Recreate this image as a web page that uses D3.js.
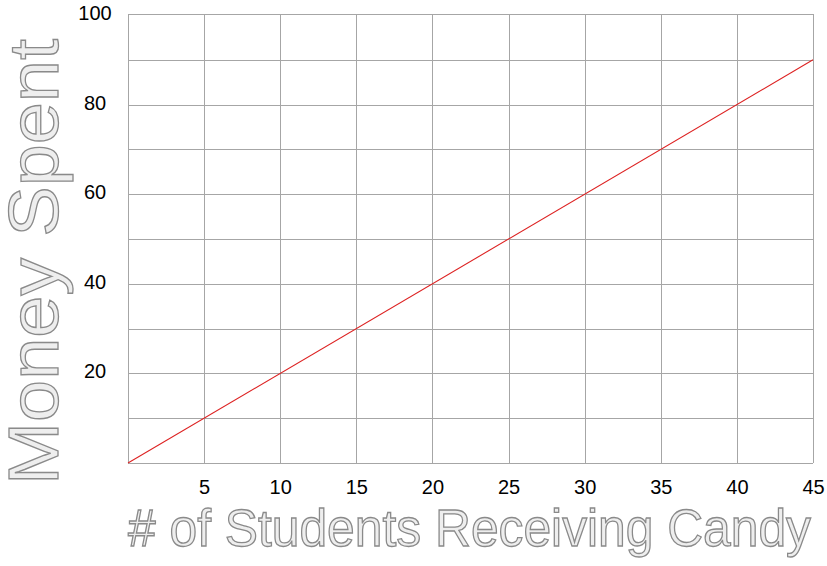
<!DOCTYPE html>
<html>
<head>
<meta charset="utf-8">
<script src="https://cdn.jsdelivr.net/npm/d3@7/dist/d3.min.js"></script>
<style>
  html, body { margin: 0; padding: 0; background: #fff; }
  svg { display: block; }
</style>
</head>
<body>
<svg id="chart" width="827" height="566"></svg>
<script>
// ---- data ----
const xTickValues = [5, 10, 15, 20, 25, 30, 35, 40, 45];
const yTickValues = [20, 40, 60, 80, 100];
const xGridValues = [0, 5, 10, 15, 20, 25, 30, 35, 40, 45];
const yGridValues = [0, 10, 20, 30, 40, 50, 60, 70, 80, 90, 100];
const students = [0, 45];
const money = [0, 90];
const xTitle = "# of Students Receiving Candy";
const yTitle = "Money Spent";

const points = students.map((s, i) => ({ x: s, y: money[i] }));

const svg = d3.select("#chart");
const plotLeft = 128, plotRight = 813, plotTop = 14, plotBottom = 463;

const x = d3.scaleLinear().domain([0, 45]).range([plotLeft, plotRight]);
const y = d3.scaleLinear().domain([0, 100]).range([plotBottom, plotTop + 1]);

const gridColor = "#a6a6a6";

// vertical grid
svg.append("g")
  .selectAll("line")
  .data(xGridValues)
  .join("line")
  .attr("x1", d => Math.round(x(d)) + 0.5)
  .attr("x2", d => Math.round(x(d)) + 0.5)
  .attr("y1", plotTop)
  .attr("y2", plotBottom)
  .attr("stroke", gridColor)
  .attr("stroke-width", 1);

// horizontal grid
svg.append("g")
  .selectAll("line")
  .data(yGridValues)
  .join("line")
  .attr("x1", plotLeft)
  .attr("x2", plotRight)
  .attr("y1", d => (d === 100 ? plotTop : Math.round(y(d))) + 0.5)
  .attr("y2", d => (d === 100 ? plotTop : Math.round(y(d))) + 0.5)
  .attr("stroke", gridColor)
  .attr("stroke-width", 1);

// data line
const line = d3.line().x(d => x(d.x)).y(d => y(d.y));
svg.append("path")
  .datum(points)
  .attr("d", line)
  .attr("fill", "none")
  .attr("stroke", "#dd2222")
  .attr("stroke-width", 1.1);

// x tick labels
const xAxis = d3.axisBottom(x).tickValues(xTickValues).tickSize(0).tickPadding(0);
const gx = svg.append("g").attr("transform", `translate(0, ${plotBottom})`).call(xAxis);
gx.select(".domain").remove();
gx.selectAll("text")
  .attr("y", 25)
  .attr("dy", "0.32em")
  .attr("font-family", "'Liberation Sans', Arial, sans-serif")
  .attr("font-size", 20)
  .attr("fill", "#000");

// y tick labels (centered at x ~ 95)
const yAxis = d3.axisLeft(y).tickValues(yTickValues).tickSize(0).tickPadding(0);
const gy = svg.append("g").attr("transform", `translate(95, 0)`).call(yAxis);
gy.select(".domain").remove();
gy.selectAll("text")
  .attr("x", 0)
  .attr("text-anchor", "middle")
  .attr("dy", "0.32em")
  .attr("transform", "translate(0,-2)")
  .attr("font-family", "'Liberation Sans', Arial, sans-serif")
  .attr("font-size", 20)
  .attr("fill", "#000");

// axis titles (outlined text)
svg.append("text")
  .attr("x", (plotLeft + 811) / 2)
  .attr("y", 546)
  .attr("text-anchor", "middle")
  .attr("font-family", "'Liberation Sans', Arial, sans-serif")
  .attr("font-size", 51)
  .attr("textLength", 683)
  .attr("lengthAdjust", "spacingAndGlyphs")
  .attr("fill", "#eeeeee")
  .attr("stroke", "#8a8a8a")
  .attr("stroke-width", 1.3)
  .text(xTitle);

svg.append("text")
  .attr("transform", "translate(58, 262) rotate(-90)")
  .attr("text-anchor", "middle")
  .attr("font-family", "'Liberation Sans', Arial, sans-serif")
  .attr("font-size", 70)
  .attr("textLength", 446)
  .attr("lengthAdjust", "spacingAndGlyphs")
  .attr("fill", "#eeeeee")
  .attr("stroke", "#8a8a8a")
  .attr("stroke-width", 1.3)
  .text(yTitle);
</script>
</body>
</html>
